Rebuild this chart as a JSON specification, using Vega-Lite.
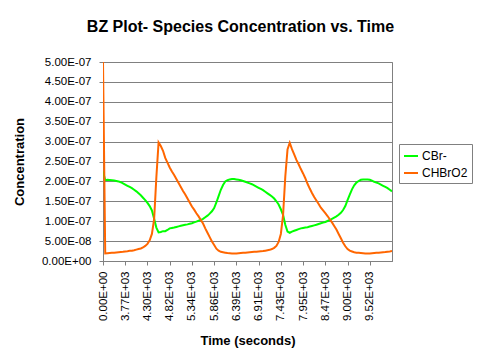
{
  "$schema": "https://vega.github.io/schema/vega-lite/v6.json",
  "autosize": "none",
  "width": 289,
  "height": 199,
  "padding": {"left": 103, "top": 62, "right": 88, "bottom": 102},
  "background": "white",
  "title": {
    "text": "BZ Plot- Species Concentration vs. Time",
    "font": "Liberation Sans",
    "fontSize": 16,
    "fontWeight": "bold",
    "color": "black",
    "anchor": "middle",
    "offset": 21,
    "dx": -7
  },
  "data": {
    "values": [
      {"t": 0, "CBr-": 22.5e-8, "CHBrO2": 50e-8},
      {"t": 3304.5, "CBr-": 20.3e-8, "CHBrO2": 1.9e-8},
      {"t": 3356.7, "CBr-": 20.4e-8, "CHBrO2": 1.95e-8},
      {"t": 3409.0, "CBr-": 20.35e-8, "CHBrO2": 2.0e-8},
      {"t": 3461.2, "CBr-": 20.3e-8, "CHBrO2": 2.05e-8},
      {"t": 3513.4, "CBr-": 20.2e-8, "CHBrO2": 2.1e-8},
      {"t": 3565.6, "CBr-": 20.1e-8, "CHBrO2": 2.15e-8},
      {"t": 3617.8, "CBr-": 20.0e-8, "CHBrO2": 2.2e-8},
      {"t": 3670.1, "CBr-": 19.8e-8, "CHBrO2": 2.25e-8},
      {"t": 3722.3, "CBr-": 19.5e-8, "CHBrO2": 2.3e-8},
      {"t": 3774.5, "CBr-": 19.2e-8, "CHBrO2": 2.4e-8},
      {"t": 3826.7, "CBr-": 18.9e-8, "CHBrO2": 2.45e-8},
      {"t": 3878.9, "CBr-": 18.6e-8, "CHBrO2": 2.55e-8},
      {"t": 3931.2, "CBr-": 18.3e-8, "CHBrO2": 2.6e-8},
      {"t": 3983.4, "CBr-": 17.9e-8, "CHBrO2": 2.7e-8},
      {"t": 4035.6, "CBr-": 17.5e-8, "CHBrO2": 2.85e-8},
      {"t": 4087.8, "CBr-": 17.0e-8, "CHBrO2": 3.0e-8},
      {"t": 4140.0, "CBr-": 16.5e-8, "CHBrO2": 3.15e-8},
      {"t": 4192.3, "CBr-": 15.9e-8, "CHBrO2": 3.4e-8},
      {"t": 4244.5, "CBr-": 15.3e-8, "CHBrO2": 3.8e-8},
      {"t": 4296.7, "CBr-": 14.6e-8, "CHBrO2": 4.3e-8},
      {"t": 4348.9, "CBr-": 13.8e-8, "CHBrO2": 5.2e-8},
      {"t": 4401.1, "CBr-": 12.7e-8, "CHBrO2": 6.8e-8},
      {"t": 4453.4, "CBr-": 10.6e-8, "CHBrO2": 10.5e-8},
      {"t": 4505.6, "CBr-": 8.4e-8, "CHBrO2": 21.0e-8},
      {"t": 4557.8, "CBr-": 7.2e-8, "CHBrO2": 29.8e-8},
      {"t": 4610.0, "CBr-": 7.3e-8, "CHBrO2": 28.9e-8},
      {"t": 4662.2, "CBr-": 7.5e-8, "CHBrO2": 27.7e-8},
      {"t": 4714.5, "CBr-": 7.5e-8, "CHBrO2": 25.9e-8},
      {"t": 4766.7, "CBr-": 7.8e-8, "CHBrO2": 24.7e-8},
      {"t": 4818.9, "CBr-": 8.2e-8, "CHBrO2": 23.5e-8},
      {"t": 4871.1, "CBr-": 8.3e-8, "CHBrO2": 22.5e-8},
      {"t": 4923.3, "CBr-": 8.4e-8, "CHBrO2": 21.6e-8},
      {"t": 4975.6, "CBr-": 8.55e-8, "CHBrO2": 20.6e-8},
      {"t": 5027.8, "CBr-": 8.7e-8, "CHBrO2": 19.6e-8},
      {"t": 5080.0, "CBr-": 8.85e-8, "CHBrO2": 18.6e-8},
      {"t": 5132.2, "CBr-": 9.0e-8, "CHBrO2": 17.6e-8},
      {"t": 5184.4, "CBr-": 9.1e-8, "CHBrO2": 16.7e-8},
      {"t": 5236.7, "CBr-": 9.2e-8, "CHBrO2": 15.7e-8},
      {"t": 5288.9, "CBr-": 9.35e-8, "CHBrO2": 14.7e-8},
      {"t": 5341.1, "CBr-": 9.5e-8, "CHBrO2": 13.7e-8},
      {"t": 5393.3, "CBr-": 9.7e-8, "CHBrO2": 12.9e-8},
      {"t": 5445.5, "CBr-": 9.9e-8, "CHBrO2": 12.0e-8},
      {"t": 5497.8, "CBr-": 10.1e-8, "CHBrO2": 11.2e-8},
      {"t": 5550.0, "CBr-": 10.3e-8, "CHBrO2": 10.3e-8},
      {"t": 5602.2, "CBr-": 10.6e-8, "CHBrO2": 9.4e-8},
      {"t": 5654.4, "CBr-": 11.0e-8, "CHBrO2": 8.2e-8},
      {"t": 5706.6, "CBr-": 11.4e-8, "CHBrO2": 7.1e-8},
      {"t": 5758.9, "CBr-": 11.9e-8, "CHBrO2": 6.0e-8},
      {"t": 5811.1, "CBr-": 12.5e-8, "CHBrO2": 4.9e-8},
      {"t": 5863.3, "CBr-": 13.3e-8, "CHBrO2": 4.0e-8},
      {"t": 5915.5, "CBr-": 14.7e-8, "CHBrO2": 3.1e-8},
      {"t": 5967.7, "CBr-": 16.3e-8, "CHBrO2": 2.6e-8},
      {"t": 6020.0, "CBr-": 17.9e-8, "CHBrO2": 2.3e-8},
      {"t": 6072.2, "CBr-": 19.1e-8, "CHBrO2": 2.2e-8},
      {"t": 6124.4, "CBr-": 20.0e-8, "CHBrO2": 2.1e-8},
      {"t": 6176.6, "CBr-": 20.3e-8, "CHBrO2": 2.0e-8},
      {"t": 6228.8, "CBr-": 20.5e-8, "CHBrO2": 1.95e-8},
      {"t": 6281.1, "CBr-": 20.6e-8, "CHBrO2": 1.9e-8},
      {"t": 6333.3, "CBr-": 20.6e-8, "CHBrO2": 1.9e-8},
      {"t": 6385.5, "CBr-": 20.5e-8, "CHBrO2": 1.9e-8},
      {"t": 6437.7, "CBr-": 20.4e-8, "CHBrO2": 1.95e-8},
      {"t": 6489.9, "CBr-": 20.3e-8, "CHBrO2": 2.0e-8},
      {"t": 6542.2, "CBr-": 20.1e-8, "CHBrO2": 2.05e-8},
      {"t": 6594.4, "CBr-": 19.9e-8, "CHBrO2": 2.1e-8},
      {"t": 6646.6, "CBr-": 19.7e-8, "CHBrO2": 2.15e-8},
      {"t": 6698.8, "CBr-": 19.5e-8, "CHBrO2": 2.2e-8},
      {"t": 6751.0, "CBr-": 19.3e-8, "CHBrO2": 2.25e-8},
      {"t": 6803.3, "CBr-": 19.0e-8, "CHBrO2": 2.3e-8},
      {"t": 6855.5, "CBr-": 18.7e-8, "CHBrO2": 2.35e-8},
      {"t": 6907.7, "CBr-": 18.4e-8, "CHBrO2": 2.4e-8},
      {"t": 6959.9, "CBr-": 18.1e-8, "CHBrO2": 2.45e-8},
      {"t": 7012.1, "CBr-": 17.8e-8, "CHBrO2": 2.5e-8},
      {"t": 7064.4, "CBr-": 17.4e-8, "CHBrO2": 2.6e-8},
      {"t": 7116.6, "CBr-": 17.0e-8, "CHBrO2": 2.7e-8},
      {"t": 7168.8, "CBr-": 16.6e-8, "CHBrO2": 2.8e-8},
      {"t": 7221.0, "CBr-": 16.2e-8, "CHBrO2": 3.0e-8},
      {"t": 7273.2, "CBr-": 15.7e-8, "CHBrO2": 3.3e-8},
      {"t": 7325.5, "CBr-": 15.0e-8, "CHBrO2": 3.8e-8},
      {"t": 7377.7, "CBr-": 14.2e-8, "CHBrO2": 4.8e-8},
      {"t": 7429.9, "CBr-": 13.0e-8, "CHBrO2": 6.8e-8},
      {"t": 7482.1, "CBr-": 11.6e-8, "CHBrO2": 11.5e-8},
      {"t": 7534.3, "CBr-": 9.1e-8, "CHBrO2": 21.2e-8},
      {"t": 7586.6, "CBr-": 7.4e-8, "CHBrO2": 28.0e-8},
      {"t": 7638.8, "CBr-": 7.1e-8, "CHBrO2": 29.7e-8},
      {"t": 7691.0, "CBr-": 7.4e-8, "CHBrO2": 28.1e-8},
      {"t": 7743.2, "CBr-": 7.6e-8, "CHBrO2": 26.8e-8},
      {"t": 7795.4, "CBr-": 7.8e-8, "CHBrO2": 25.4e-8},
      {"t": 7847.7, "CBr-": 8.0e-8, "CHBrO2": 24.3e-8},
      {"t": 7899.9, "CBr-": 8.2e-8, "CHBrO2": 23.1e-8},
      {"t": 7952.1, "CBr-": 8.3e-8, "CHBrO2": 22.0e-8},
      {"t": 8004.3, "CBr-": 8.4e-8, "CHBrO2": 20.8e-8},
      {"t": 8056.5, "CBr-": 8.5e-8, "CHBrO2": 19.4e-8},
      {"t": 8108.8, "CBr-": 8.65e-8, "CHBrO2": 18.2e-8},
      {"t": 8161.0, "CBr-": 8.8e-8, "CHBrO2": 17.1e-8},
      {"t": 8213.2, "CBr-": 8.95e-8, "CHBrO2": 16.1e-8},
      {"t": 8265.4, "CBr-": 9.1e-8, "CHBrO2": 15.2e-8},
      {"t": 8317.6, "CBr-": 9.3e-8, "CHBrO2": 14.3e-8},
      {"t": 8369.9, "CBr-": 9.5e-8, "CHBrO2": 13.4e-8},
      {"t": 8422.1, "CBr-": 9.65e-8, "CHBrO2": 12.7e-8},
      {"t": 8474.3, "CBr-": 9.8e-8, "CHBrO2": 12.0e-8},
      {"t": 8526.5, "CBr-": 10.05e-8, "CHBrO2": 11.3e-8},
      {"t": 8578.7, "CBr-": 10.3e-8, "CHBrO2": 10.5e-8},
      {"t": 8631.0, "CBr-": 10.6e-8, "CHBrO2": 9.7e-8},
      {"t": 8683.2, "CBr-": 10.9e-8, "CHBrO2": 8.8e-8},
      {"t": 8735.4, "CBr-": 11.2e-8, "CHBrO2": 7.9e-8},
      {"t": 8787.6, "CBr-": 11.6e-8, "CHBrO2": 6.8e-8},
      {"t": 8839.8, "CBr-": 12.1e-8, "CHBrO2": 5.7e-8},
      {"t": 8892.1, "CBr-": 12.8e-8, "CHBrO2": 4.6e-8},
      {"t": 8944.3, "CBr-": 13.8e-8, "CHBrO2": 3.7e-8},
      {"t": 8996.5, "CBr-": 15.3e-8, "CHBrO2": 3.0e-8},
      {"t": 9048.7, "CBr-": 16.7e-8, "CHBrO2": 2.6e-8},
      {"t": 9100.9, "CBr-": 18.0e-8, "CHBrO2": 2.4e-8},
      {"t": 9153.2, "CBr-": 19.0e-8, "CHBrO2": 2.2e-8},
      {"t": 9205.4, "CBr-": 19.7e-8, "CHBrO2": 2.1e-8},
      {"t": 9257.6, "CBr-": 20.1e-8, "CHBrO2": 2.05e-8},
      {"t": 9309.8, "CBr-": 20.4e-8, "CHBrO2": 2.0e-8},
      {"t": 9362.0, "CBr-": 20.5e-8, "CHBrO2": 1.95e-8},
      {"t": 9414.3, "CBr-": 20.5e-8, "CHBrO2": 1.9e-8},
      {"t": 9466.5, "CBr-": 20.5e-8, "CHBrO2": 1.9e-8},
      {"t": 9518.7, "CBr-": 20.4e-8, "CHBrO2": 1.9e-8},
      {"t": 9570.9, "CBr-": 20.2e-8, "CHBrO2": 1.95e-8},
      {"t": 9623.1, "CBr-": 19.9e-8, "CHBrO2": 2.0e-8},
      {"t": 9675.4, "CBr-": 19.7e-8, "CHBrO2": 2.05e-8},
      {"t": 9727.6, "CBr-": 19.5e-8, "CHBrO2": 2.1e-8},
      {"t": 9779.8, "CBr-": 19.2e-8, "CHBrO2": 2.15e-8},
      {"t": 9832.0, "CBr-": 18.9e-8, "CHBrO2": 2.2e-8},
      {"t": 9884.2, "CBr-": 18.6e-8, "CHBrO2": 2.25e-8},
      {"t": 9936.5, "CBr-": 18.3e-8, "CHBrO2": 2.35e-8},
      {"t": 9988.7, "CBr-": 17.9e-8, "CHBrO2": 2.4e-8},
      {"t": 10040.9, "CBr-": 17.5e-8, "CHBrO2": 2.5e-8}
    ]
  },
  "transform": [
    {"fold": ["CBr-", "CHBrO2"], "as": ["species", "conc"]}
  ],
  "mark": {"type": "line", "strokeWidth": 2, "clip": true},
  "encoding": {
    "x": {
      "field": "t",
      "type": "ordinal",
      "sort": "ascending",
      "scale": {"type": "point", "padding": 0},
      "axis": {
        "title": "Time (seconds)",
        "values": [0, 3774.5, 4296.7, 4818.9, 5341.1, 5863.3, 6385.5, 6907.7, 7429.9, 7952.1, 8474.3, 8996.5, 9518.7],
        "labelExpr": "replace(replace(upper(format(datum.value, '.2e')), 'E+', 'E+0'), 'E-', 'E-0')",
        "labelAngle": -90,
        "labelPadding": 6,
        "tickSize": 4,
        "titlePadding": 14,
        "grid": false
      }
    },
    "y": {
      "field": "conc",
      "type": "quantitative",
      "scale": {"domain": [0, 5e-7], "nice": false, "zero": true},
      "axis": {
        "title": "Concentration",
        "values": [0, 5e-8, 1e-7, 1.5e-7, 2e-7, 2.5e-7, 3e-7, 3.5e-7, 4e-7, 4.5e-7, 5e-7],
        "labelExpr": "replace(replace(upper(format(datum.value, '.2e')), 'E+', 'E+0'), 'E-', 'E-0')",
        "tickSize": 4,
        "labelPadding": 8,
        "titlePadding": 15,
        "grid": true
      }
    },
    "color": {
      "field": "species",
      "type": "nominal",
      "scale": {"domain": ["CBr-", "CHBrO2"], "range": ["#00ff00", "#ff6600"]},
      "legend": {
        "title": null,
        "orient": "none",
        "legendX": 296,
        "legendY": 82,
        "symbolType": "stroke",
        "symbolStrokeWidth": 2,
        "symbolSize": 196,
        "labelOffset": 3,
        "labelFont": "Liberation Sans",
        "labelFontSize": 12,
        "labelColor": "black",
        "strokeColor": "#808080",
        "fillColor": "white",
        "padding": 4,
        "rowPadding": 3
      }
    }
  },
  "config": {
    "view": {"stroke": "#808080", "strokeWidth": 1},
    "axis": {
      "labelFont": "Liberation Sans",
      "labelFontSize": 11.5,
      "labelColor": "black",
      "titleFont": "Liberation Sans",
      "titleFontSize": 13,
      "titleFontWeight": "bold",
      "titleColor": "black",
      "domainColor": "#808080",
      "tickColor": "#808080",
      "gridColor": "#808080",
      "gridOpacity": 1,
      "labelOverlap": false
    }
  }
}
